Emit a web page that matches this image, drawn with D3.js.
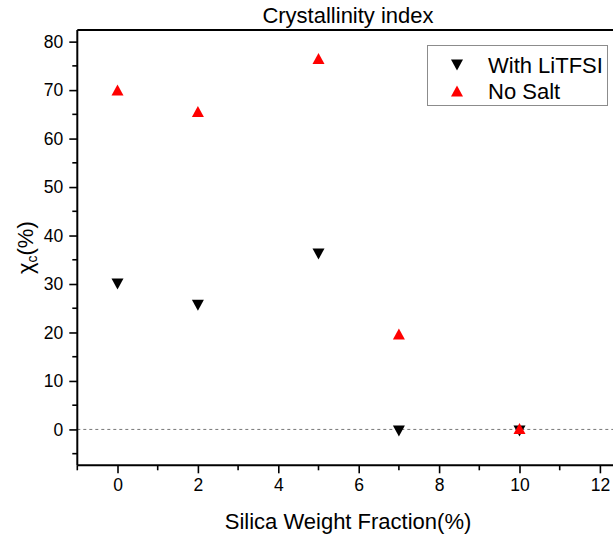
<!DOCTYPE html>
<html>
<head>
<meta charset="utf-8">
<script src="https://cdn.jsdelivr.net/npm/d3@7"></script>
<style>
  html, body { margin: 0; padding: 0; background: #fff; }
  svg { display: block; font-family: Arial, "Liberation Sans", sans-serif; }
</style>
</head>
<body>
<svg id="chart" width="613" height="539"></svg>
<script>
// ---- data ----
const silicaFraction = [0, 2, 5, 7, 10];
const withLiTFSI = [30.0, 25.6, 36.2, -0.3, -0.3];
const noSalt = [70.0, 65.6, 76.5, 19.7, 0.2];
const seriesNames = ["With LiTFSI", "No Salt"];
const xTicks = [0, 2, 4, 6, 8, 10, 12];
const yTicks = [0, 10, 20, 30, 40, 50, 60, 70, 80];
const titleText = "Crystallinity index";
const xLabel = "Silica Weight Fraction(%)";

// ---- layout ----
const W = 613, H = 539;
const plotLeft = 77.3, plotTop = 30, plotBottom = 465.3;
const pxPerUnitX = 40.2;
const svg = d3.select("#chart");

const x = d3.scaleLinear().domain([-1, 13]).range([plotLeft, plotLeft + 14 * pxPerUnitX]);
const y = d3.scaleLinear().domain([-7.4, 82.4]).range([plotBottom, plotTop]);

// zero reference line
svg.append("line")
  .attr("x1", plotLeft).attr("x2", W)
  .attr("y1", y(0)).attr("y2", y(0))
  .attr("stroke", "#777").attr("stroke-width", 1)
  .attr("stroke-dasharray", "3,3");

// frame: top border
svg.append("line")
  .attr("x1", plotLeft).attr("x2", W + 5)
  .attr("y1", plotTop).attr("y2", plotTop)
  .attr("stroke", "#000").attr("stroke-width", 2);

// x axis
const xAxis = d3.axisBottom(x).tickValues(xTicks).tickSize(8).tickPadding(5).tickFormat(d3.format("d"));
const gx = svg.append("g").attr("transform", `translate(0,${plotBottom})`).call(xAxis);
gx.select(".domain").attr("stroke-width", 2).attr("d", `M${plotLeft},0H${W + 5}`);
gx.selectAll(".tick line").attr("stroke-width", 1.6);
gx.selectAll(".tick text").attr("font-size", 17.5).attr("font-family", "Arial, 'Liberation Sans', sans-serif").attr("fill", "#000");
const xMinor = d3.range(-1, 14, 1).filter(v => !xTicks.includes(v));
gx.selectAll(".minor").data(xMinor).enter().append("line")
  .attr("x1", d => x(d)).attr("x2", d => x(d))
  .attr("y1", 0).attr("y2", 5)
  .attr("stroke", "#000").attr("stroke-width", 1.6);

// y axis
const yAxis = d3.axisLeft(y).tickValues(yTicks).tickSize(8).tickPadding(6).tickFormat(d3.format("d"));
const gy = svg.append("g").attr("transform", `translate(${plotLeft},0)`).call(yAxis);
gy.select(".domain").attr("stroke-width", 2).attr("d", `M0,${plotTop}V${plotBottom}`);
gy.selectAll(".tick line").attr("stroke-width", 1.6);
gy.selectAll(".tick text").attr("font-size", 17.5).attr("font-family", "Arial, 'Liberation Sans', sans-serif").attr("fill", "#000");
const yMinor = d3.range(-5, 85, 5).filter(v => !yTicks.includes(v));
gy.selectAll(".minor").data(yMinor).enter().append("line")
  .attr("x1", -5).attr("x2", 0)
  .attr("y1", d => y(d)).attr("y2", d => y(d))
  .attr("stroke", "#000").attr("stroke-width", 1.6);

// markers (bbox-centred triangles)
const hw = 6, hh = 5.5;
const upTri = `M0,${-hh}L${hw},${hh}L${-hw},${hh}Z`;
const downTri = `M${-hw},${-hh}L${hw},${-hh}L0,${hh}Z`;

svg.append("g").selectAll("path").data(silicaFraction).enter().append("path")
  .attr("d", downTri)
  .attr("transform", (d, i) => `translate(${x(d)},${y(withLiTFSI[i])})`)
  .attr("fill", "#000");

svg.append("g").selectAll("path").data(silicaFraction).enter().append("path")
  .attr("d", upTri)
  .attr("transform", (d, i) => `translate(${x(d)},${y(noSalt[i])})`)
  .attr("fill", "#ff0000");

// title
svg.append("text")
  .attr("x", 348).attr("y", 23)
  .attr("text-anchor", "middle")
  .attr("font-size", 22)
  .text(titleText);

// x label
svg.append("text")
  .attr("x", 348).attr("y", 529)
  .attr("text-anchor", "middle")
  .attr("font-size", 22)
  .text(xLabel);

// y label
const yl = svg.append("text")
  .attr("transform", `translate(33,${(plotTop + plotBottom) / 2}) rotate(-90)`)
  .attr("text-anchor", "middle")
  .attr("font-size", 22);
yl.append("tspan").text("χ");
yl.append("tspan").attr("font-size", 14).attr("dy", 4).text("c");
yl.append("tspan").attr("dy", -4).text("(%)");

// legend
const lg = svg.append("g");
lg.append("rect")
  .attr("x", 427.5).attr("y", 45.5).attr("width", 180).attr("height", 60)
  .attr("fill", "#fff").attr("stroke", "#8c8c8c").attr("stroke-width", 1);
const legendShapes = [downTri, upTri];
const legendColors = ["#000", "#ff0000"];
seriesNames.forEach((name, i) => {
  const cy = 65 + i * 26;
  lg.append("path").attr("d", legendShapes[i])
    .attr("transform", `translate(457,${cy})`)
    .attr("fill", legendColors[i]);
  lg.append("text").attr("x", 488).attr("y", cy + 8)
    .attr("font-size", 22).text(name);
});
</script>
</body>
</html>
